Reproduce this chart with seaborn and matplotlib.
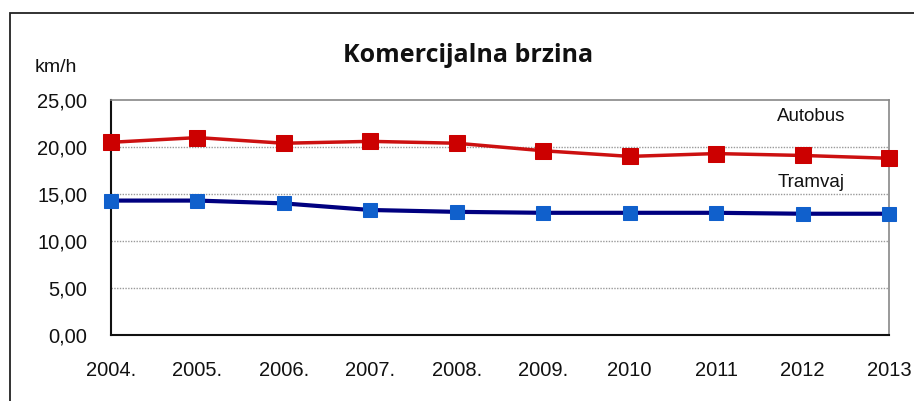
import matplotlib
matplotlib.use('Agg')
import matplotlib.pyplot as plt
import matplotlib.patches as mpatches
import seaborn as sns
import pandas as pd

# ─────────────────────────────────────────
# DATA
# ─────────────────────────────────────────
godine   = ['2004.', '2005.', '2006.', '2007.', '2008.', '2009.', '2010', '2011', '2012', '2013']
autobus  = [20.5, 21.0, 20.4, 20.6, 20.4, 19.6, 19.0, 19.3, 19.1, 18.8]
tramvaj  = [14.3, 14.3, 14.0, 13.3, 13.1, 13.0, 13.0, 13.0, 12.9, 12.9]
y_ticks  = [0, 5, 10, 15, 20, 25]

df = pd.DataFrame({'godina': godine, 'Autobus': autobus, 'Tramvaj': tramvaj})

# ─────────────────────────────────────────
# PLOT
# ─────────────────────────────────────────
sns.set_style('white')
plt.rcParams['font.family'] = ['Liberation Sans', 'DejaVu Sans']

fig = plt.figure(figsize=(9.14, 4.01), dpi=100)
ax = fig.add_axes([111/914, 66/401, 778/914, 235/401])

# outer frame (cut off at right/bottom like the screenshot)
fig.patches.append(mpatches.Rectangle((10/914, -0.1), 1.2, (401-13)/401 + 0.1,
                                      transform=fig.transFigure, fill=False,
                                      edgecolor='#222222', linewidth=1.3, zorder=0))

sns.lineplot(data=df, x='godina', y='Autobus', sort=False, ax=ax,
             color='#CC1010', linewidth=2.5, marker='s', markersize=11,
             markerfacecolor='#CC0000', markeredgecolor='#CC0000', clip_on=False, zorder=5)
sns.lineplot(data=df, x='godina', y='Tramvaj', sort=False, ax=ax,
             color='#000080', linewidth=3, marker='s', markersize=10,
             markerfacecolor='#1060CC', markeredgecolor='#1060CC', clip_on=False, zorder=5)

ax.set_xlim(0, len(godine) - 1)
ax.set_ylim(0, 25)
ax.set_yticks(y_ticks)
ax.set_yticklabels([f'{v:.2f}'.replace('.', ',') for v in y_ticks])
ax.set_xlabel('')
ax.set_ylabel('')

for v in y_ticks[1:-1]:
    ax.axhline(v, color='#999999', linestyle=(0, (1, 1)), linewidth=1, zorder=1)

for side in ['left', 'bottom']:
    ax.spines[side].set_color('#111111')
    ax.spines[side].set_linewidth(1.5)
for side in ['top', 'right']:
    ax.spines[side].set_color('#888888')
    ax.spines[side].set_linewidth(1.2)
    ax.spines[side].set_visible(True)

ax.tick_params(axis='both', which='both', direction='out', length=5, width=1.2,
               color='#111111', labelsize=14.5, labelcolor='#111111')
ax.tick_params(axis='x', pad=14)
ax.tick_params(axis='y', pad=12)

ax.text(8.1, 23.2, 'Autobus', ha='center', va='center', fontsize=13.5, color='#111111')
ax.text(8.1, 16.2, 'Tramvaj', ha='center', va='center', fontsize=13.5, color='#111111')

fig.text(468/914, 1 - 55/401, 'Komercijalna brzina', ha='center', va='center',
         fontsize=18, fontweight='bold', color='#111111',
         family=['Open Sans', 'DejaVu Sans'])
fig.text(56/914, 1 - 68/401, 'km/h', ha='center', va='center', fontsize=14,
         color='#111111')

plt.savefig('out.png', dpi=100)
